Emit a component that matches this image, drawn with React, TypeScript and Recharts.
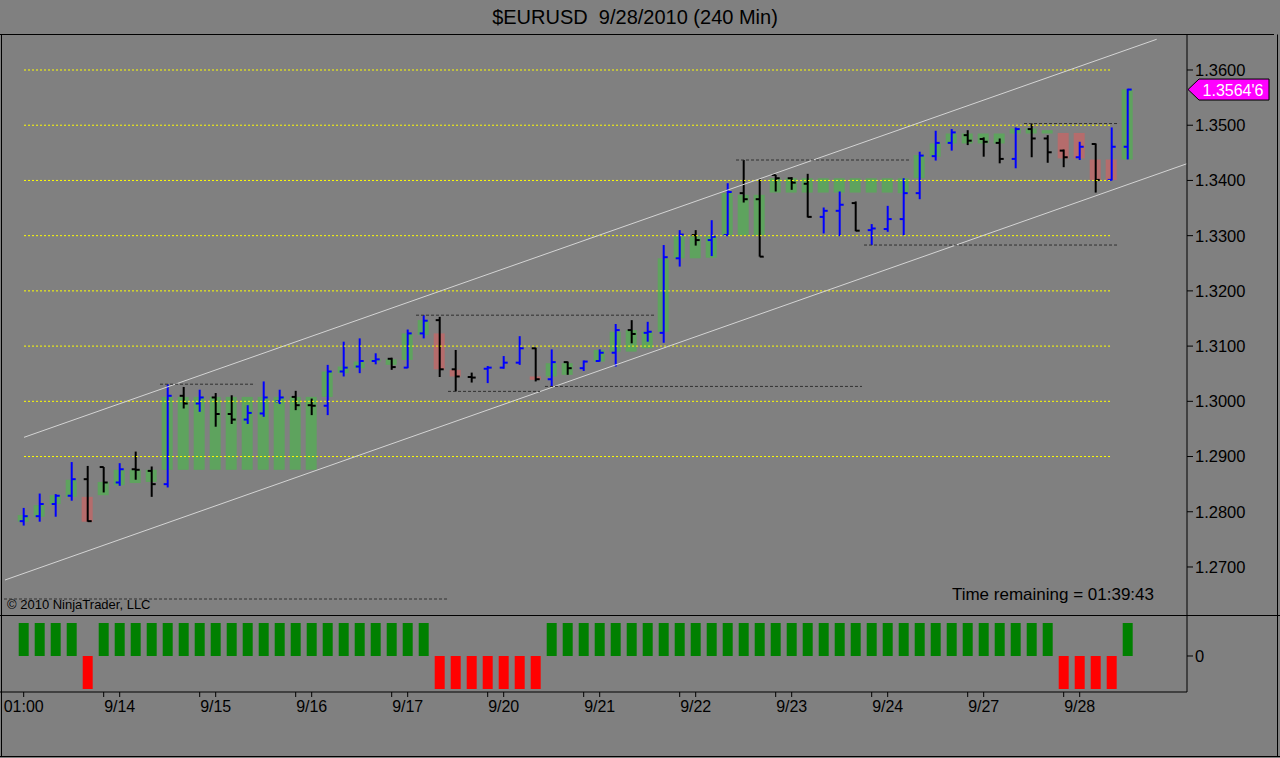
import React from 'react';
import { ComposedChart, Bar, XAxis, YAxis, ReferenceLine, ReferenceDot, Cell } from 'recharts';

const FONT = '"Liberation Sans", Arial, Helvetica, sans-serif';
const BG = '#808080';
const BLUE = '#0000ff';
const BLACK = '#000000';
const BOX_UP = '#5ea35e';
const BOX_DOWN = '#b56c6c';

// ---- price bars (240 min) ----
const opens = [
  1.2783, 1.2792, 1.2814, 1.2829, 1.2859, 1.2881, 1.2853, 1.2877, 1.2874, 1.2850,
  1.3010, 1.2996, 1.3007, 1.2977, 1.2967, 1.2978, 1.3000, 1.3008, 1.2993, 1.2992,
  1.3054, 1.3063, 1.3073, 1.3077, 1.3061, 1.3123, 1.3147, 1.3058, 1.3044, 1.3059,
  1.3061, 1.3070, 1.3096, 1.3040, 1.3071, 1.3060, 1.3073, 1.3088, 1.3129, 1.3124,
  1.3124, 1.3259, 1.3301, 1.3292, 1.3301, 1.3377, 1.3366, 1.3410, 1.3404, 1.3394,
  1.3334, 1.3345, 1.3359, 1.3310, 1.3312, 1.3330, 1.3377, 1.3444, 1.3468, 1.3482,
  1.3475, 1.3468, 1.3439, 1.3493, 1.3476, 1.3454, 1.3442, 1.3466, 1.3401, 1.3461,
];
const highs = [
  1.2807, 1.2833, 1.2832, 1.2890, 1.2883, 1.2881, 1.2888, 1.2909, 1.2882, 1.3031,
  1.3026, 1.3021, 1.3015, 1.3011, 1.2993, 1.3036, 1.3021, 1.3019, 1.3005, 1.3066,
  1.3108, 1.3114, 1.3087, 1.3079, 1.3130, 1.3156, 1.3153, 1.3093, 1.3052, 1.3064,
  1.3082, 1.3118, 1.3097, 1.3094, 1.3072, 1.3074, 1.3094, 1.3140, 1.3147, 1.3144,
  1.3283, 1.3310, 1.3310, 1.3328, 1.3395, 1.3437, 1.3403, 1.3410, 1.3406, 1.3412,
  1.3351, 1.3380, 1.3362, 1.3321, 1.3354, 1.3404, 1.3452, 1.3490, 1.3493, 1.3491,
  1.3478, 1.3476, 1.3496, 1.3503, 1.3482, 1.3456, 1.3470, 1.3467, 1.3496, 1.3566,
];
const lows = [
  1.2775, 1.2782, 1.2791, 1.2820, 1.2782, 1.2835, 1.2847, 1.2858, 1.2827, 1.2844,
  1.2987, 1.2981, 1.2954, 1.2959, 1.2959, 1.2972, 1.2995, 1.2984, 1.2975, 1.2975,
  1.3045, 1.3051, 1.3067, 1.3057, 1.3060, 1.3114, 1.3044, 1.3018, 1.3034, 1.3033,
  1.3059, 1.3066, 1.3036, 1.3027, 1.3048, 1.3055, 1.3072, 1.3063, 1.3105, 1.3108,
  1.3106, 1.3244, 1.3282, 1.3263, 1.3299, 1.3360, 1.3262, 1.3380, 1.3383, 1.3333,
  1.3304, 1.3299, 1.3308, 1.3283, 1.3307, 1.3301, 1.3366, 1.3436, 1.3454, 1.3464,
  1.3443, 1.3431, 1.3422, 1.3442, 1.3432, 1.3424, 1.3437, 1.3378, 1.3400, 1.3438,
];
const closes = [
  1.2792, 1.2814, 1.2829, 1.2859, 1.2783, 1.2853, 1.2877, 1.2876, 1.2850, 1.3010,
  1.2996, 1.3007, 1.2977, 1.2967, 1.2979, 1.3007, 1.3007, 1.2993, 1.2992, 1.3054,
  1.3061, 1.3073, 1.3076, 1.3062, 1.3123, 1.3146, 1.3058, 1.3045, 1.3043, 1.3061,
  1.3070, 1.3096, 1.3040, 1.3071, 1.3060, 1.3072, 1.3088, 1.3129, 1.3122, 1.3126,
  1.3261, 1.3302, 1.3292, 1.3298, 1.3379, 1.3366, 1.3262, 1.3404, 1.3396, 1.3334,
  1.3345, 1.3356, 1.3309, 1.3313, 1.3330, 1.3377, 1.3445, 1.3468, 1.3487, 1.3472,
  1.3470, 1.3439, 1.3493, 1.3476, 1.3451, 1.3442, 1.3461, 1.3401, 1.3461, 1.35646,
];

// ---- smoothed (Heiken-Ashi style) boxes ----
const haOpens: (number | null)[] = [
  1.2782, 1.2791, 1.2814, 1.2827, 1.2827, 1.2830, 1.2848, 1.2852, 1.2854, 1.2876,
  1.2876, 1.2876, 1.2876, 1.2876, 1.2876, 1.2876, 1.2876, 1.2876, 1.2876, 1.3008,
  1.3051, 1.3060, 1.3072, 1.3066, 1.3075, 1.3120, 1.3123, 1.3057, null, null,
  null, null, 1.3045, 1.3045, 1.3048, null, 1.3072, 1.3090, 1.3090, 1.3096,
  1.3126, 1.3259, 1.3259, 1.3260, 1.3301, 1.3301, 1.3301, 1.3378, 1.3378, 1.3378,
  1.3378, 1.3378, 1.3378, 1.3378, 1.3378, 1.3377, 1.3404, 1.3443, 1.3467, 1.3467,
  1.3467, 1.3467, 1.3485, 1.3485, 1.3485, 1.3486, 1.3486, 1.3438, 1.3438, 1.3438,
];
const haCloses: (number | null)[] = [
  1.2794, 1.2812, 1.2830, 1.2858, 1.2782, 1.2854, 1.2876, 1.2876, 1.2876, 1.3008,
  1.3008, 1.3008, 1.3008, 1.3008, 1.3008, 1.3008, 1.3008, 1.3008, 1.3008, 1.3054,
  1.3063, 1.3072, 1.3076, 1.3076, 1.3123, 1.3147, 1.3058, 1.3045, null, null,
  null, null, 1.3039, 1.3069, 1.3069, null, 1.3093, 1.3126, 1.3129, 1.3126,
  1.3259, 1.3299, 1.3299, 1.3299, 1.3377, 1.3374, 1.3374, 1.3404, 1.3404, 1.3404,
  1.3404, 1.3404, 1.3404, 1.3404, 1.3404, 1.3404, 1.3446, 1.3467, 1.3485, 1.3485,
  1.3485, 1.3485, 1.3494, 1.3494, 1.3491, 1.3440, 1.3440, 1.3401, 1.3401, 1.3565,
];

// ---- lower panel trend signal ----
const signal = [
  1, 1, 1, 1, -1, 1, 1, 1, 1, 1,
  1, 1, 1, 1, 1, 1, 1, 1, 1, 1,
  1, 1, 1, 1, 1, 1, -1, -1, -1, -1,
  -1, -1, -1, 1, 1, 1, 1, 1, 1, 1,
  1, 1, 1, 1, 1, 1, 1, 1, 1, 1,
  1, 1, 1, 1, 1, 1, 1, 1, 1, 1,
  1, 1, 1, 1, 1, -1, -1, -1, -1, 1,
];

// ---- axis labels ----
const dayTickIndex = [0, 6, 12, 18, 24, 30, 36, 42, 48, 54, 60, 66];
const dayTickLabels = ['01:00', '9/14', '9/15', '9/16', '9/17', '9/20', '9/21', '9/22', '9/23', '9/24', '9/27', '9/28'];
const minorTickIndex = [5, 11, 17, 23, 29, 35, 41, 47, 53, 59, 65];
const priceTicks = [1.27, 1.28, 1.29, 1.30, 1.31, 1.32, 1.33, 1.34, 1.35, 1.36];

// ---- overlays (in data coordinates: bar index, price) ----
const gridPrices = [1.29, 1.30, 1.31, 1.32, 1.33, 1.34, 1.35, 1.36];
const gridFrom = 0.02;
const gridTo = 67.94;
const channelUpper = [{ x: 0.02, y: 1.29348 }, { x: 70.81, y: 1.36556 }];
const channelLower = [{ x: -1.17, y: 1.26764 }, { x: 72.7, y: 1.34303 }];
const swingFrom = [8.52, 24.52, 26.52, 32.58, 44.52, 52.52, 62.52, -1.23];
const swingTo = [14.46, 39.46, 32.27, 52.39, 55.46, 68.39, 68.46, 26.46];
const swingPrice = [1.3031, 1.3156, 1.3018, 1.3027, 1.3437, 1.3283, 1.3503, 1.2642];

const X_MIN = -1.48125;
const X_MAX = 72.70625;
const Y_MIN = 1.261304;
const Y_MAX = 1.366338;
const SIG_MIN = -1.0909;
const SIG_MAX = 1.2424;

const bars = opens.map((o, i) => {
  const ho = haOpens[i];
  const hc = haCloses[i];
  return {
    i,
    open: o,
    high: highs[i],
    low: lows[i],
    close: closes[i],
    hl: [lows[i], highs[i]],
    haOpen: ho,
    haClose: hc,
    box: ho == null || hc == null ? null : [Math.min(ho, hc), Math.max(ho, hc)],
    sig: signal[i],
  };
});

const lastClose = closes[closes.length - 1];
const lastStr = lastClose.toFixed(5);
const lastLabel = lastStr.slice(0, -1) + "'" + lastStr.slice(-1);

const OhlcShape = (props: any) => {
  const { x, y, width, height, payload } = props;
  if (!payload || height == null || isNaN(y)) return null;
  const cx = x + width / 2;
  const hi = payload.high;
  const lo = payload.low;
  const py = (p: number) => y + ((hi - p) / (hi - lo)) * height;
  const color = payload.close >= payload.open ? BLUE : BLACK;
  const yo = py(payload.open);
  const yc = py(payload.close);
  return (
    <g>
      <line x1={cx} x2={cx} y1={y} y2={y + height} stroke={color} strokeWidth={2} />
      <line x1={cx - 4} x2={cx} y1={yo} y2={yo} stroke={color} strokeWidth={2} />
      <line x1={cx} x2={cx + 4} y1={yc} y2={yc} stroke={color} strokeWidth={2} />
    </g>
  );
};

const BoxShape = (props: any) => {
  const { x, y, width, height, payload } = props;
  if (!payload || payload.box == null || isNaN(y)) return null;
  const up = payload.haClose >= payload.haOpen;
  return <rect x={x} y={y} width={width} height={Math.max(height, 1)} fill={up ? BOX_UP : BOX_DOWN} />;
};

const PriceTag = (props: any) => {
  const { cx, cy } = props;
  if (cx == null || cy == null) return null;
  const pts = `${cx + 1},${cy} ${cx + 12},${cy - 10.5} ${cx + 82},${cy - 10.5} ${cx + 82},${cy + 10.5} ${cx + 12},${cy + 10.5}`;
  return (
    <g>
      <polygon points={pts} fill="#ff00ff" stroke="#000" strokeWidth={1} />
      <text x={cx + 46} y={cy + 6} textAnchor="middle" fill="#ffffff" fontSize={16} fontFamily={FONT}>
        {lastLabel}
      </text>
    </g>
  );
};

const allXTicks = [...dayTickIndex, ...minorTickIndex].sort((a, b) => a - b);
const xLabel = (v: number) => {
  const k = dayTickIndex.indexOf(v);
  return k >= 0 ? dayTickLabels[k] : '';
};

export default function App() {
  return (
    <div
      style={{
        position: 'absolute',
        left: 0,
        top: 0,
        width: 1280,
        height: 758,
        background: BG,
        overflow: 'hidden',
        fontFamily: FONT,
      }}
    >
      <svg width={1280} height={758} style={{ position: 'absolute', left: 0, top: 0 }}>
        <text x={635} y={24} textAnchor="middle" fontSize={20} fontFamily={FONT} fill="#000">
          $EURUSD&#160;&#160;9/28/2010 (240 Min)
        </text>
        <line x1={0} x2={1274} y1={34.5} y2={34.5} stroke="#000" />
        <line x1={1.5} x2={1.5} y1={34.5} y2={757} stroke="#000" />
        <line x1={1277.5} x2={1277.5} y1={34.5} y2={757} stroke="#000" />
        <line x1={0} x2={1280} y1={756.5} y2={756.5} stroke="#000" />
        <line x1={0} x2={1280} y1={615.5} y2={615.5} stroke="#000" />
        <text x={7} y={608.5} fontSize={13} fontFamily={FONT} fill="#000">
          © 2010 NinjaTrader, LLC
        </text>
        <text x={1154} y={600} textAnchor="end" fontSize={17} fontFamily={FONT} fill="#000">
          Time remaining = 01:39:43
        </text>
      </svg>

      <div style={{ position: 'absolute', left: 0, top: 0 }}>
        <ComposedChart width={1280} height={615} data={bars} margin={{ top: 35, right: 0, bottom: 0, left: 0 }}>
          <XAxis xAxisId="box" type="number" dataKey="i" domain={[X_MIN, X_MAX]} allowDataOverflow hide />
          <XAxis xAxisId="ohlc" type="number" dataKey="i" domain={[X_MIN, X_MAX]} allowDataOverflow hide />
          <YAxis
            orientation="right"
            width={93}
            domain={[Y_MIN, Y_MAX]}
            allowDataOverflow
            ticks={priceTicks}
            interval={0}
            tickFormatter={(v: number) => v.toFixed(4)}
            tick={{ fill: '#000', fontSize: 16.5, fontFamily: FONT }}
            tickSize={6}
            tickMargin={2}
            tickLine={{ stroke: '#000' }}
            axisLine={{ stroke: '#000' }}
          />
          <Bar xAxisId="box" dataKey="box" barSize={11} shape={BoxShape} isAnimationActive={false} />
          {gridPrices.map((p) => (
            <ReferenceLine
              key={'g' + p}
              xAxisId="ohlc"
              segment={[{ x: gridFrom, y: p }, { x: gridTo, y: p }]}
              stroke="#ffff00"
              strokeWidth={1}
              strokeDasharray="2 2"
              ifOverflow="visible"
            />
          ))}
          <ReferenceLine xAxisId="ohlc" segment={channelUpper} stroke="#d4d4d4" strokeWidth={1} ifOverflow="visible" />
          <ReferenceLine xAxisId="ohlc" segment={channelLower} stroke="#d4d4d4" strokeWidth={1} ifOverflow="visible" />
          {swingPrice.map((p, k) => (
            <ReferenceLine
              key={'s' + k}
              xAxisId="ohlc"
              segment={[{ x: swingFrom[k], y: p }, { x: swingTo[k], y: p }]}
              stroke="#303030"
              strokeWidth={1}
              strokeDasharray="3 2"
              ifOverflow="visible"
            />
          ))}
          <Bar xAxisId="ohlc" dataKey="hl" barSize={8} shape={OhlcShape} isAnimationActive={false} />
          <ReferenceDot xAxisId="ohlc" x={X_MAX} y={lastClose} r={0} ifOverflow="visible" shape={PriceTag} />
        </ComposedChart>
      </div>

      <div style={{ position: 'absolute', left: 0, top: 615 }}>
        <ComposedChart width={1280} height={143} data={bars} margin={{ top: 0, right: 0, bottom: 0, left: 0 }}>
          <XAxis
            type="number"
            dataKey="i"
            domain={[X_MIN, X_MAX]}
            allowDataOverflow
            ticks={allXTicks}
            interval={0}
            tickFormatter={xLabel}
            height={66}
            tickSize={5}
            tickMargin={4}
            tick={{ fill: '#000', fontSize: 16, fontFamily: FONT }}
            tickLine={{ stroke: '#000' }}
            axisLine={{ stroke: '#000' }}
          />
          <YAxis
            orientation="right"
            width={93}
            domain={[SIG_MIN, SIG_MAX]}
            allowDataOverflow
            ticks={[0]}
            interval={0}
            tick={{ fill: '#000', fontSize: 16.5, fontFamily: FONT }}
            tickSize={6}
            tickMargin={2}
            tickLine={{ stroke: '#000' }}
            axisLine={{ stroke: '#000' }}
          />
          <Bar dataKey="sig" barSize={10} isAnimationActive={false}>
            {bars.map((b) => (
              <Cell key={b.i} fill={b.sig > 0 ? '#008000' : '#ff0000'} />
            ))}
          </Bar>
        </ComposedChart>
      </div>
    </div>
  );
}
